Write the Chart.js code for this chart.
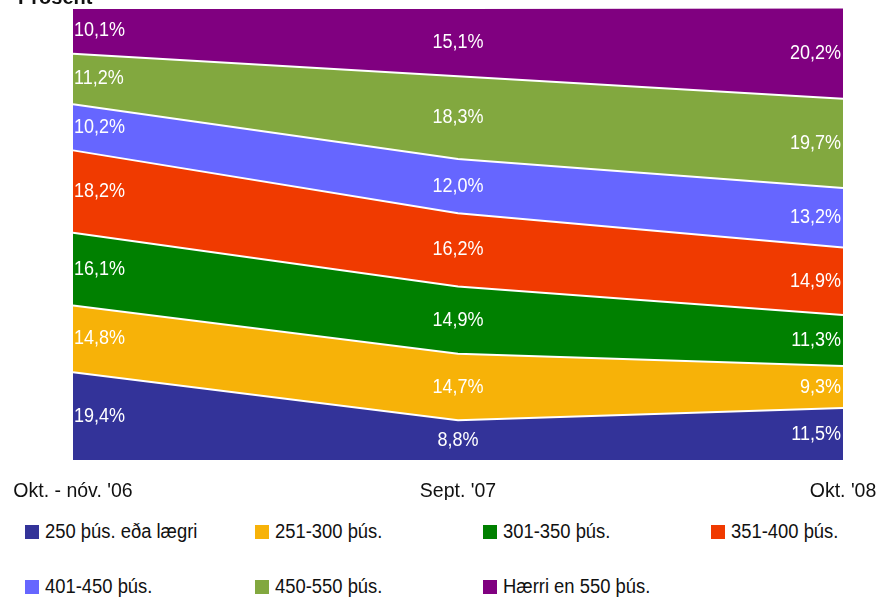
<!DOCTYPE html>
<html lang="is">
<head>
<meta charset="utf-8">
<title>Verðbil íbúða</title>
<script src="https://cdn.jsdelivr.net/npm/chart.js@4/dist/chart.umd.min.js"></script>
<style>
  html, body { margin: 0; padding: 0; background: #fff; }
  body { width: 891px; height: 599px; position: relative; overflow: hidden;
         font-family: "Liberation Sans", Arial, sans-serif; }
  #wrap { position: absolute; left: 0; top: 0; width: 891px; height: 510px; }
  #legend { position: absolute; left: 25px; top: 520px; width: 870px; }
  .item { position: absolute; display: flex; align-items: center; font-size: 20px; color: #111;
          white-space: nowrap; }
  .item span.t { display: inline-block; transform: scaleX(0.92); transform-origin: left center; }
  .sw { width: 14px; height: 14px; margin-right: 6px; flex: none; }
</style>
</head>
<body>
<div id="wrap"><canvas id="c" width="891" height="510"></canvas></div>
<div id="legend"></div>
<script>
// Tímabil (x-ás)
const periods = ["Okt. - nóv. '06", "Sept. '07", "Okt. '08"];

// Hlutfall íbúða í hverju verðbili (%), neðst til efst
const upTo250   = [19.4, 8.8, 11.5];
const r251_300  = [14.8, 14.7, 9.3];
const r301_350  = [16.1, 14.9, 11.3];
const r351_400  = [18.2, 16.2, 14.9];
const r401_450  = [10.2, 12.0, 13.2];
const r450_550  = [11.2, 18.3, 19.7];
const over550   = [10.1, 15.1, 20.2];

const seriesNames = ["250 þús. eða lægri", "251-300 þús.", "301-350 þús.", "351-400 þús.",
                     "401-450 þús.", "450-550 þús.", "Hærri en 550 þús."];
const seriesData = [upTo250, r251_300, r301_350, r351_400, r401_450, r450_550, over550];
const colors = ["#333399", "#F7B208", "#008000", "#F03A00", "#6666FF", "#82A83F", "#800080"];

const datasets = seriesData.map((d, i) => ({
  label: seriesNames[i],
  data: d,
  backgroundColor: colors[i],
  borderColor: "#ffffff",
  borderWidth: 2,
  pointRadius: 0,
  tension: 0,
  fill: i === 0 ? "origin" : "-1"
}));

// Gildismerki í hverju svæði, miðjuð lóðrétt í bilinu
const bandLabels = {
  id: "bandLabels",
  afterDatasetsDraw(chart) {
    const { ctx, chartArea, scales: { x, y } } = chart;
    ctx.save();
    ctx.beginPath();
    ctx.rect(chartArea.left, chartArea.top, chartArea.right - chartArea.left, chartArea.bottom - chartArea.top);
    ctx.clip();
    ctx.fillStyle = "#ffffff";
    ctx.font = "20px 'Liberation Sans', Arial, sans-serif";
    ctx.textBaseline = "middle";
    for (let j = 0; j < periods.length; j++) {
      let base = 0;
      for (let i = 0; i < seriesData.length; i++) {
        const v = seriesData[i][j];
        const yMid = y.getPixelForValue(base + v / 2);
        base += v;
        const txt = v.toFixed(1).replace(".", ",") + "%";
        let px = x.getPixelForValue(j);
        if (j === 0) { ctx.textAlign = "left"; px += 1; }
        else if (j === periods.length - 1) { ctx.textAlign = "right"; px -= 2; }
        else { ctx.textAlign = "center"; }
        ctx.save();
        ctx.translate(px, yMid);
        ctx.scale(0.9, 1);
        ctx.fillText(txt, 0, 0);
        ctx.restore();
      }
    }
    ctx.restore();

    // Ásheiti efst til vinstri
    ctx.save();
    ctx.fillStyle = "#111";
    ctx.font = "bold 20px 'Liberation Sans', Arial, sans-serif";
    ctx.textAlign = "left";
    ctx.textBaseline = "alphabetic";
    ctx.fillText("Prósent", 18, 4);
    ctx.restore();
  }
};

new Chart(document.getElementById("c"), {
  type: "line",
  data: { labels: periods, datasets },
  options: {
    responsive: false,
    animation: false,
    layout: { padding: { left: 73, right: 48, top: 8, bottom: 10 } },
    plugins: { legend: { display: false }, tooltip: { enabled: false } },
    scales: {
      x: {
        offset: false,
        grid: { display: false, drawTicks: false },
        border: { display: false },
        ticks: { color: "#111", font: { size: 19.5, family: "'Liberation Sans', Arial, sans-serif" },
                 padding: 20, maxRotation: 0, autoSkip: false },
        afterFit(s) { s.height = 40; s.paddingLeft = 0; s.paddingRight = 0; }
      },
      y: {
        display: false,
        stacked: true,
        min: 0,
        max: 100
      }
    }
  },
  plugins: [bandLabels]
});

// Skýringar í tveimur röðum
const legend = document.getElementById("legend");
const colX = [0, 230, 458, 686];
seriesNames.forEach((n, i) => {
  const el = document.createElement("div");
  el.className = "item";
  el.style.left = colX[i % 4] + "px";
  el.style.top = (i < 4 ? 0 : 55) + "px";
  el.innerHTML = '<span class="sw" style="background:' + colors[i] + '"></span><span class="t">' + n + '</span>';
  legend.appendChild(el);
});
</script>
</body>
</html>
